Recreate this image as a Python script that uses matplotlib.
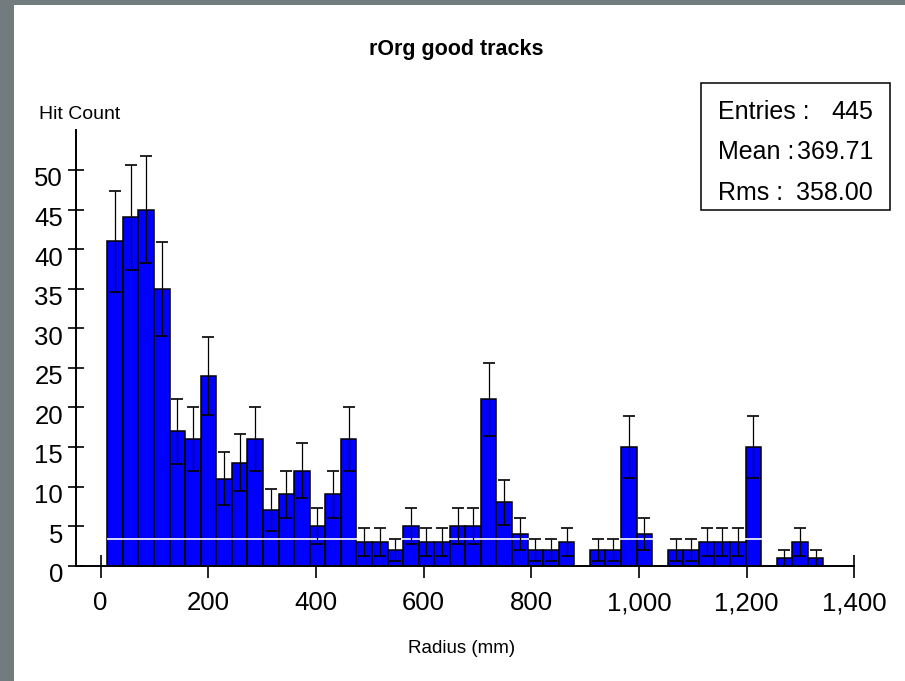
import numpy as np
import matplotlib
matplotlib.use("Agg")
import matplotlib.pyplot as plt
from matplotlib.patches import Rectangle
from matplotlib.transforms import ScaledTranslation

# ---- data ----
counts = [41, 44, 45, 35, 17, 16, 24, 11, 13, 16, 7, 9, 12, 5, 9, 16,
          3, 3, 2, 5, 3, 3, 5, 5, 21, 8, 4, 2, 2, 3, 0, 2, 2, 15, 4, 0,
          2, 2, 3, 3, 3, 15, 0, 1, 3, 1]
bin_start = 12.3
bin_width = 28.92
white_level = 3.34
xticks = [0, 200, 400, 600, 800, 1000, 1200, 1400]
xtick_labels = ["0", "200", "400", "600", "800", "1,000", "1,200", "1,400"]
yticks = [0, 5, 10, 15, 20, 25, 30, 35, 40, 45, 50]
title = "rOrg good tracks"
xlabel = "Radius (mm)"
ylabel = "Hit Count"
stats_names = ["Entries :", "Mean :", "Rms :"]
stats_values = ["445", "369.71", "358.00"]

plt.rcParams['font.family'] = ['Liberation Sans', 'DejaVu Sans']

W, H = 905, 681
fig = plt.figure(figsize=(W / 100, H / 100), dpi=100)
fig.patch.set_facecolor('white')

# textured border (plain gray)
border = '#727c7e'
fig.patches.append(Rectangle((0, 0), 14 / W, 1, transform=fig.transFigure,
                             facecolor=border, edgecolor='none', zorder=0))
fig.patches.append(Rectangle((0, 1 - 4.5 / H), 1, 4.5 / H, transform=fig.transFigure,
                             facecolor=border, edgecolor='none', zorder=0))

left, right, bottom, top = 75.7, 854.3, 565.7, 130.0
ax = fig.add_axes([left / W, 1 - bottom / H, (right - left) / W, (bottom - top) / H])
ax.set_facecolor('none')

counts_arr = np.array(counts, dtype=float)
edges = bin_start + bin_width * np.arange(len(counts) + 1)
centers = 0.5 * (edges[:-1] + edges[1:])

mask = counts_arr > 0
ax.bar(edges[:-1][mask], counts_arr[mask], width=bin_width, align='edge',
       color='#0000ff', edgecolor='black', linewidth=1.1, zorder=2)
ax.hlines(white_level, edges[0], edges[-1], colors='white', linewidth=1.2, zorder=2.2)
ax.errorbar(centers[mask], counts_arr[mask], yerr=np.sqrt(counts_arr[mask]),
            fmt='none', ecolor='black', elinewidth=0.9, capsize=4, capthick=1.2,
            zorder=3)

ax.set_xlim(-46.4, 1400)
ax.set_ylim(0, 55.05)

for s in ['top', 'right']:
    ax.spines[s].set_visible(False)
for s in ['left', 'bottom']:
    ax.spines[s].set_linewidth(1.4)

ax.set_xticks(xticks)
ax.set_xticklabels(xtick_labels)
ax.xaxis.remove_overlapping_locs = False
ax.set_xticks([xticks[0], xticks[-1]], minor=True)
ax.tick_params(axis='x', which='major', direction='out', length=8.3, width=1.2,
               pad=10, labelsize=18.5)
ax.tick_params(axis='x', which='minor', direction='in', length=7.7, width=1.2)

ax.set_yticks(yticks)
ax.tick_params(axis='y', which='major', direction='inout', length=12.2, width=1.2,
               pad=3, labelsize=18.5)
off = ScaledTranslation(0, -5 / 72, fig.dpi_scale_trans)
for lab in ax.get_yticklabels():
    lab.set_transform(lab.get_transform() + off)

# texts
fig.text(456 / W, 1 - 55 / H, title, ha='center', va='baseline',
         fontsize=15.5, fontweight='bold')
fig.text(39 / W, 1 - 119 / H, ylabel, ha='left', va='baseline', fontsize=14)
fig.text(462 / W, 1 - 653 / H, xlabel, ha='center', va='baseline', fontsize=13.5)

# stats box
fig.patches.append(Rectangle((700.7 / W, 1 - 210 / H), (890 - 700.7) / W, (210 - 82.7) / H,
                             transform=fig.transFigure, facecolor='white',
                             edgecolor='black', linewidth=1.1, zorder=5))
baselines = [119, 159, 200]
for name, val, yb in zip(stats_names, stats_values, baselines):
    fig.text(718 / W, 1 - yb / H, name, ha='left', va='baseline', fontsize=18, zorder=6)
    fig.text(873 / W, 1 - yb / H, val, ha='right', va='baseline', fontsize=18, zorder=6)

fig.savefig('out.png', dpi=100)
